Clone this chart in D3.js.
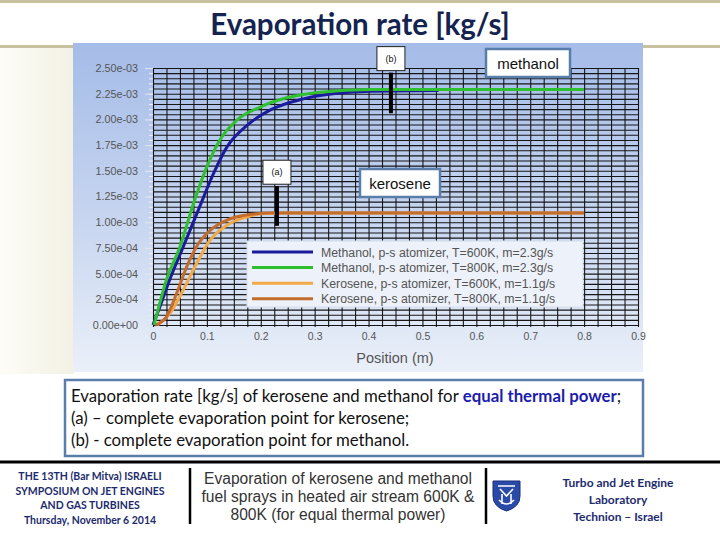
<!DOCTYPE html>
<html>
<head>
<meta charset="utf-8">
<script src="https://cdnjs.cloudflare.com/ajax/libs/d3/7.8.5/d3.min.js"></script>
<style>
  body { margin: 0; background: #fff; }
  svg { display: block; }
</style>
</head>
<body>
<svg id="slide" width="720" height="540"></svg>
<script>
// values: [position (m), evaporation rate (kg/s)]
const methanol600 = [[0, 0], [0.013, 1.8e-4], [0.031, 4.4e-4], [0.056, 7.6e-4], [0.085, 1.13e-3],
  [0.112, 1.47e-3], [0.137, 1.73e-3], [0.174, 1.94e-3], [0.217, 2.09e-3], [0.279, 2.2e-3],
  [0.341, 2.255e-3], [0.403, 2.275e-3], [0.53, 2.28e-3]];
const methanol800 = [[0.002, 0], [0.025, 4.4e-4], [0.05, 7.6e-4], [0.075, 1.18e-3], [0.1, 1.54e-3],
  [0.124, 1.8e-3], [0.155, 1.99e-3], [0.199, 2.12e-3], [0.248, 2.21e-3], [0.31, 2.265e-3],
  [0.403, 2.29e-3], [0.8, 2.29e-3]];
const kerosene600 = [[0.008, 0], [0.0315, 1.13e-4], [0.056, 3.4e-4], [0.081, 6.0e-4], [0.106, 8.25e-4],
  [0.137, 9.7e-4], [0.174, 1.05e-3], [0.205, 1.085e-3], [0.25, 1.09e-3], [0.8, 1.09e-3]];
const kerosene800 = [[0.004, 0], [0.025, 8e-5], [0.044, 3.1e-4], [0.0625, 5.66e-4], [0.084, 7.9e-4],
  [0.106, 9.2e-4], [0.137, 1.02e-3], [0.174, 1.07e-3], [0.217, 1.09e-3], [0.8, 1.09e-3]];

const seriesNames = [
  "Methanol, p-s atomizer, T=600K, m=2.3g/s",
  "Methanol, p-s atomizer, T=800K, m=2.3g/s",
  "Kerosene, p-s atomizer, T=600K, m=1.1g/s",
  "Kerosene, p-s atomizer, T=800K, m=1.1g/s"
];
const seriesData = [methanol600, methanol800, kerosene600, kerosene800];
const seriesColors = ["#1b1b9e", "#2fc02f", "#f2aa48", "#c46c2c"];

const xTicks = [0, 0.1, 0.2, 0.3, 0.4, 0.5, 0.6, 0.7, 0.8, 0.9];
const yTicks = [0, 2.5e-4, 5e-4, 7.5e-4, 1e-3, 1.25e-3, 1.5e-3, 1.75e-3, 2e-3, 2.25e-3, 2.5e-3];

// complete evaporation markers: (a) kerosene, (b) methanol
const markerLabels = ["(a)", "(b)"];
const markerX = [0.23, 0.4415];
const markerTop = [1.35e-3, 2.455e-3];
const markerBottom = [0.965e-3, 2.06e-3];

const captionLines = [
  [["Evaporation rate [kg/s] of kerosene and methanol for ", false], ["equal thermal power", true], [";", false]],
  [["(a) \u2013 complete evaporation point for kerosene;", false]],
  [["(b) - complete evaporation point for methanol.", false]]
];
const footLeft = ["THE 13TH (Bar Mitva) ISRAELI", "SYMPOSIUM ON JET ENGINES", "AND GAS TURBINES", "Thursday, November 6 2014"];
const footMid = ["Evaporation of kerosene and methanol", "fuel sprays in heated air stream 600K &", "800K  (for equal thermal power)"];
const footRight = ["Turbo and Jet Engine", "Laboratory", "Technion \u2013 Israel"];

const svg = d3.select("#slide");
const calibri = "Lato, 'Open Sans', sans-serif";
const arial = "'Liberation Sans', Arial, sans-serif";

const defs = svg.append("defs");
const grad = defs.append("linearGradient").attr("id", "panelGrad")
  .attr("x1", 0).attr("y1", 0).attr("x2", 0).attr("y2", 1);
grad.append("stop").attr("offset", "0%").attr("stop-color", "#a5bce8");
grad.append("stop").attr("offset", "55%").attr("stop-color", "#c8d6f0");
grad.append("stop").attr("offset", "100%").attr("stop-color", "#eaf0f9");
const sideGrad = defs.append("linearGradient").attr("id", "sideGrad")
  .attr("x1", 0).attr("y1", 0).attr("x2", 1).attr("y2", 0);
sideGrad.append("stop").attr("offset", "0%").attr("stop-color", "#fdfcf7");
sideGrad.append("stop").attr("offset", "100%").attr("stop-color", "#f3f1e4");

// slide background
svg.append("rect").attr("x", 0).attr("y", 0).attr("width", 720).attr("height", 540).attr("fill", "#fff");
svg.append("rect").attr("x", 0).attr("y", 46).attr("width", 74).attr("height", 328).attr("fill", "url(#sideGrad)");

// title bar
svg.append("rect").attr("x", -4).attr("y", 1.5).attr("width", 728).attr("height", 45)
  .attr("fill", "#fff").attr("stroke", "#c9c2a0").attr("stroke-width", 3);
svg.append("text").attr("x", 360).attr("y", 35).attr("text-anchor", "middle")
  .attr("font-family", calibri).attr("font-weight", "bold").attr("font-size", 29.5).attr("fill", "#14234f")
  .text("Evaporation rate [kg/s]");

// chart panel
svg.append("rect").attr("x", 73).attr("y", 43).attr("width", 570).attr("height", 329)
  .attr("fill", "url(#panelGrad)");

const x = d3.scaleLinear().domain([0, 0.9]).range([153, 638]);
const y = d3.scaleLinear().domain([0, 2.5e-3]).range([325, 68]);

const grid = svg.append("g");
grid.append("g").attr("transform", `translate(0,${y(0) + 2})`)
  .call(d3.axisBottom(x).tickValues(d3.range(0, 0.9001, 0.025)).tickSize(-(y(0) - y(2.5e-3) + 2)).tickFormat(""))
  .call(g => g.select(".domain").remove())
  .call(g => g.selectAll("line").attr("stroke", "#161616").attr("stroke-width", 1.1));
grid.append("g").attr("transform", `translate(${x(0)},0)`)
  .call(d3.axisLeft(y).tickValues(d3.range(0, 2.5001e-3, 5e-5)).tickSize(-(x(0.9) - x(0))).tickFormat(""))
  .call(g => g.select(".domain").remove())
  .call(g => g.selectAll("line").attr("stroke", "#161616").attr("stroke-width", 1.1));
// little ticks left of the grid
grid.append("g").attr("transform", `translate(${x(0)},0)`)
  .call(d3.axisLeft(y).tickValues(d3.range(0, 2.5001e-3, 5e-5)).tickSize(4).tickFormat(""))
  .call(g => g.select(".domain").remove())
  .call(g => g.selectAll("line").attr("stroke", "#eef2fa"));
grid.append("g").attr("transform", `translate(${x(0)},0)`)
  .call(d3.axisLeft(y).tickValues(yTicks).tickSize(8).tickFormat(""))
  .call(g => g.select(".domain").remove())
  .call(g => g.selectAll("line").attr("stroke", "#dfe6f3"));

const sci = v => d3.format(".2e")(v).replace(/e([+-])(\d)$/, "e$10$2");
svg.append("g").attr("transform", `translate(138,0)`)
  .call(d3.axisLeft(y).tickValues(yTicks).tickSize(0).tickPadding(0).tickFormat(sci))
  .call(g => g.select(".domain").remove())
  .call(g => g.selectAll("text").attr("font-family", arial).attr("font-size", 10.8).attr("fill", "#555"));
svg.append("g").attr("transform", `translate(0,333)`)
  .call(d3.axisBottom(x).tickValues(xTicks).tickSize(0).tickPadding(0).tickFormat(d3.format("~g")))
  .call(g => g.select(".domain").remove())
  .call(g => g.selectAll("text").attr("font-family", arial).attr("font-size", 10.5).attr("fill", "#555"));
svg.append("text").attr("x", 395).attr("y", 363).attr("text-anchor", "middle")
  .attr("font-family", arial).attr("font-size", 14.5).attr("fill", "#555").text("Position (m)");

// curves
const line = d3.line().x(d => x(d[0])).y(d => y(d[1])).curve(d3.curveMonotoneX);
const drawOrder = [2, 3, 0, 1];
svg.append("g").selectAll("path").data(drawOrder).join("path")
  .attr("d", i => line(seriesData[i]))
  .attr("fill", "none").attr("stroke", i => seriesColors[i]).attr("stroke-width", 3)
  .attr("stroke-linejoin", "round");

// evaporation point markers
const marks = svg.append("g");
markerLabels.forEach((lab, i) => {
  const cx = x(markerX[i]);
  marks.append("rect").attr("x", cx - 2).attr("y", y(markerTop[i])).attr("width", 4)
    .attr("height", y(markerBottom[i]) - y(markerTop[i])).attr("fill", "#000");
  const boxBottom = y(markerTop[i]) - 2;
  marks.append("rect").attr("x", cx - 14).attr("y", boxBottom - 24).attr("width", 28).attr("height", 24)
    .attr("fill", "#fff").attr("stroke", "#222").attr("stroke-width", 1);
  marks.append("text").attr("x", cx).attr("y", boxBottom - 9).attr("text-anchor", "middle")
    .attr("font-family", arial).attr("font-size", 9).attr("fill", "#111").text(lab);
});

// fuel labels
function labelBox(cx, top, w, txt) {
  svg.append("rect").attr("x", cx - w / 2).attr("y", top).attr("width", w).attr("height", 28)
    .attr("fill", "#fff").attr("stroke", "#5a7eaa").attr("stroke-width", 2.5);
  svg.append("text").attr("x", cx).attr("y", top + 19.5).attr("text-anchor", "middle")
    .attr("font-family", arial).attr("font-size", 15).attr("fill", "#111").text(txt);
}
labelBox(528, 49, 84, "methanol");
labelBox(400, 169, 80, "kerosene");

// legend
const leg = svg.append("g");
leg.append("rect").attr("x", 247).attr("y", 241).attr("width", 336).attr("height", 66)
  .attr("fill", "#edf1f9").attr("stroke", "#d8dfec");
seriesNames.forEach((name, i) => {
  const ly = 252 + i * 15.6;
  leg.append("line").attr("x1", 252).attr("x2", 313).attr("y1", ly).attr("y2", ly)
    .attr("stroke", seriesColors[i]).attr("stroke-width", 3);
  leg.append("text").attr("x", 321).attr("y", ly + 4.5).attr("font-family", arial)
    .attr("font-size", 12.3).attr("fill", "#555").text(name);
});

// caption box
svg.append("rect").attr("x", 65).attr("y", 380).attr("width", 578).attr("height", 76)
  .attr("fill", "#fff").attr("stroke", "#5a7eaa").attr("stroke-width", 2.5);
captionLines.forEach((parts, i) => {
  const t = svg.append("text").attr("x", 71).attr("y", 402 + i * 22)
    .attr("font-family", calibri).attr("font-size", 16.8).attr("fill", "#111");
  parts.forEach(([s, bold]) => {
    t.append("tspan").text(s).attr("font-weight", bold ? "bold" : null)
      .attr("fill", bold ? "#1c1cae" : null);
  });
});

// footer
svg.append("line").attr("x1", 0).attr("x2", 720).attr("y1", 462).attr("y2", 462)
  .attr("stroke", "#000").attr("stroke-width", 3);
footLeft.forEach((s, i) => {
  svg.append("text").attr("x", 90).attr("y", 480 + i * 14.5).attr("text-anchor", "middle")
    .attr("font-family", calibri).attr("font-weight", "bold").attr("font-size", 10.5)
    .attr("fill", "#1d2b6e").text(s);
});
[190, 486].forEach(vx => {
  svg.append("line").attr("x1", vx).attr("x2", vx).attr("y1", 468).attr("y2", 524)
    .attr("stroke", "#000").attr("stroke-width", 2.5);
});
footMid.forEach((s, i) => {
  svg.append("text").attr("x", 338).attr("y", 484 + i * 18).attr("text-anchor", "middle")
    .attr("font-family", arial).attr("font-size", 15.6).attr("fill", "#333").text(s);
});
footRight.forEach((s, i) => {
  svg.append("text").attr("x", 618).attr("y", 487 + i * 17).attr("text-anchor", "middle")
    .attr("font-family", calibri).attr("font-weight", "bold").attr("font-size", 12)
    .attr("fill", "#1d2b6e").text(s);
});

// Technion shield
const logo = svg.append("g").attr("transform", "translate(492,480)");
logo.append("path").attr("d", "M1,1 L28,1 L28,16 Q28,27 14.5,31 Q1,27 1,16 Z")
  .attr("fill", "#2a4aa8").attr("stroke", "#1a2f7a");
logo.append("path").attr("d", "M6,6 L23,6 M8,9 L14.5,16 L21,9 M7,20 Q14.5,28 22,20 M10,14 L10,24 M19,14 L19,24")
  .attr("fill", "none").attr("stroke", "#fff").attr("stroke-width", 1.6);
</script>
</body>
</html>
